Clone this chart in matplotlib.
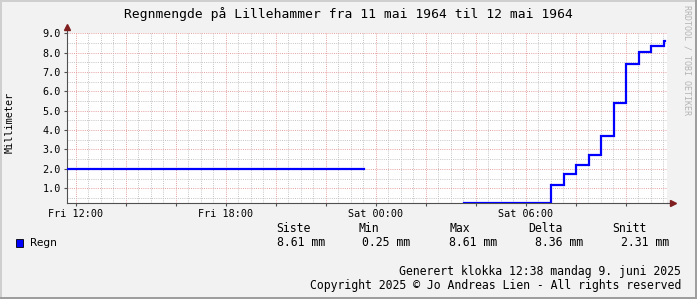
import numpy as np
import matplotlib
matplotlib.use("Agg")
import matplotlib.pyplot as plt
from matplotlib.patches import Rectangle
from matplotlib.ticker import MultipleLocator, FixedLocator, FuncFormatter

# ---- data (hours since Fri 11 May 1964 00:00) ----
times = [11.64, 23.53, 27.53, 31.03, 31.53, 32.03, 32.53, 33.03, 33.53,
         34.03, 34.53, 35.03, 35.53, 35.58]
rain_mm = [2.0, np.nan, 0.25, 1.17, 1.74, 2.22, 2.73, 3.71, 5.40,
           7.42, 8.03, 8.35, 8.61, 8.61]
x_tick_pos = [12, 18, 24, 30]
x_tick_labels = ["Fri 12:00", "Fri 18:00", "Sat 00:00", "Sat 06:00"]
y_ticks = [1, 2, 3, 4, 5, 6, 7, 8, 9]
legend_headers = ["Siste", "Min", "Max", "Delta", "Snitt"]
legend_values = ["8.61 mm", "0.25 mm", "8.61 mm", "8.36 mm", "2.31 mm"]
series_name = "Regn"
title = "Regnmengde på Lillehammer fra 11 mai 1964 til 12 mai 1964"
ylabel = "Millimeter"
footer1 = "Generert klokka 12:38 mandag 9. juni 2025"
footer2 = "Copyright 2025 © Jo Andreas Lien - All rights reserved"
watermark = "RRDTOOL / TOBI OETIKER"

W, H = 697, 299
MONO = "DejaVu Sans Mono"

def fx(x):
    return x / W

def fy(y):
    return 1 - y / H

fig = plt.figure(figsize=(W / 100, H / 100), dpi=100)
fig.patch.set_facecolor("#F2F2F2")

# frame shading
fig.patches.append(Rectangle((0, fy(2)), 1, 2 / H, transform=fig.transFigure,
                             facecolor="#CFCFCF", edgecolor="none"))
fig.patches.append(Rectangle((0, 0), 2 / W, 1, transform=fig.transFigure,
                             facecolor="#CFCFCF", edgecolor="none"))
fig.patches.append(Rectangle((0, 0), 1, 2 / H, transform=fig.transFigure,
                             facecolor="#9E9E9E", edgecolor="none"))
fig.patches.append(Rectangle((1 - 2 / W, 0), 2 / W, 1, transform=fig.transFigure,
                             facecolor="#9E9E9E", edgecolor="none"))

left, right = 66.7, 666.7
top, bottom = 33.3, 202.7
ax = fig.add_axes([fx(left), fy(bottom), (right - left) / W, (bottom - top) / H])
ax.set_facecolor("white")

ax.step(times, rain_mm, where="post", color="#0000FF", lw=1.6, zorder=3,
        solid_joinstyle="miter")

ax.set_xlim(11.64, 35.64)
ax.set_ylim(0.25, 9.0)

ax.xaxis.set_major_locator(MultipleLocator(2))
ax.xaxis.set_minor_locator(MultipleLocator(0.5))
ax.xaxis.set_major_formatter(FuncFormatter(
    lambda v, p: x_tick_labels[x_tick_pos.index(int(round(v)))]
    if int(round(v)) in x_tick_pos and abs(v - round(v)) < 1e-6 else ""))
ax.yaxis.set_major_locator(FixedLocator(y_ticks))
ax.yaxis.set_minor_locator(MultipleLocator(0.5))
ax.yaxis.set_major_formatter(FuncFormatter(lambda v, p: f"{v:.1f}"))

ax.set_axisbelow(True)
ax.grid(which="minor", color="#BDBDBD", lw=0.6, linestyle=(0, (1.2, 1.4)))
ax.grid(which="major", color="#E39494", lw=0.6, linestyle=(0, (1.2, 1.4)))

for s in ["top", "right"]:
    ax.spines[s].set_visible(False)
for s in ["left", "bottom"]:
    ax.spines[s].set_color("#505050")
    ax.spines[s].set_linewidth(0.8)

ax.tick_params(which="major", length=2.2, width=0.8, color="#505050", pad=2,
               labelsize=7.3, labelfontfamily=MONO)
ax.tick_params(which="minor", length=0, width=0)

# axis extensions with arrows
ax.plot([0, 0], [1, 1.03], transform=ax.transAxes, color="#505050", lw=0.8,
        clip_on=False)
ax.plot([1, 1.009], [0, 0], transform=ax.transAxes, color="#505050", lw=0.8,
        clip_on=False)
ax.plot([0], [1.035], transform=ax.transAxes, marker="^", color="#801F1F",
        markersize=4, clip_on=False)
ax.plot([1.01], [0], transform=ax.transAxes, marker=">", color="#801F1F",
        markersize=4, clip_on=False)

# texts
fig.text(fx(348), fy(14), title, family=MONO, fontsize=9.4, ha="center", va="center")
fig.text(fx(10), fy(122.5), ylabel, family=MONO, fontsize=7.3, rotation=90,
         ha="center", va="center")
fig.text(fx(686.5), fy(5), watermark, family=MONO, fontsize=6, rotation=270,
         ha="center", va="top", color="#B4B4B4")

# legend
fig.patches.append(Rectangle((fx(15.5), fy(247)), 7.5 / W, 8 / H,
                             transform=fig.transFigure, facecolor="#0000FF",
                             edgecolor="black", lw=0.6))
fig.text(fx(30), fy(243), series_name, family="DejaVu Sans", fontsize=7.6,
         ha="left", va="center")
hx = [276, 359, 450, 528, 612]
vx = [277, 362, 449, 535, 621]
for h, v, x1, x2 in zip(legend_headers, legend_values, hx, vx):
    fig.text(fx(x1), fy(229), h, family=MONO, fontsize=8.3, ha="left", va="center")
    fig.text(fx(x2), fy(243), v, family=MONO, fontsize=8.3, ha="left", va="center")

fig.text(fx(681), fy(271), footer1, family=MONO, fontsize=8.3, ha="right", va="center")
fig.text(fx(681), fy(285.5), footer2, family=MONO, fontsize=8.3, ha="right", va="center")

fig.savefig("out.png", dpi=100, facecolor=fig.get_facecolor())
